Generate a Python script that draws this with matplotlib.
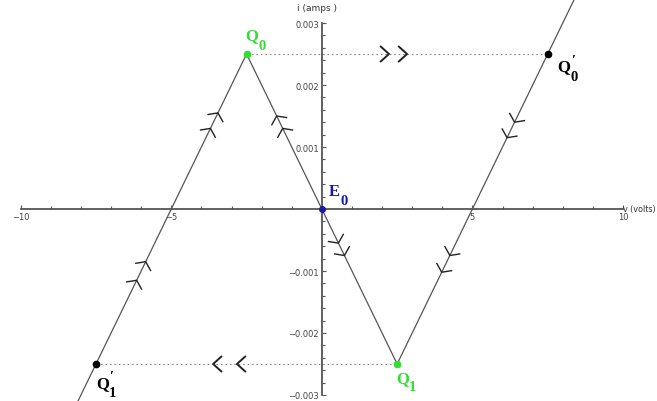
import numpy as np
import matplotlib as mpl
import matplotlib.pyplot as plt

mpl.rcParams['font.family'] = 'DejaVu Sans'

# branch end points (volts, amps)
left_v = [-8.5, -2.5]
left_i = [-0.0035, 0.0025]
mid_v = [-2.5, 2.5]
mid_i = [0.0025, -0.0025]
right_v = [2.5, 8.5]
right_i = [-0.0025, 0.0035]

# operating points
q0 = (-2.5, 0.0025)
q1 = (2.5, -0.0025)
q0p = (7.5, 0.0025)
q1p = (-7.5, -0.0025)
e0 = (0.0, 0.0)

# chevron tip positions (volts along each branch / jump)
left_arrows = [-3.45, -3.7, -5.85, -6.15]
mid_up_arrows = [-1.5, -1.3]
mid_down_arrows = [0.55, 0.75]
right_arrows = [6.4, 6.15, 4.25, 3.98]
jump_top = [2.23, 2.83]
jump_bottom = [-3.61, -2.82]

xticks = [-10, -5, 5, 10]
xticklabels = ['\u221210', '\u22125', '5', '10']
yticks = [-0.003, -0.002, -0.001, 0.001, 0.002, 0.003]
yticklabels = ['\u22120.003', '\u22120.002', '\u22120.001', '0.001', '0.002', '0.003']

line_col = '#555555'
axis_col = '#555555'
green = '#33dd33'
blue = '#1a1aa0'

fig = plt.figure(figsize=(6.57, 4.02), dpi=100)
ax = fig.add_axes([20.7 / 657, 6 / 402, 602.3 / 657, 372 / 402])
ax.set_xlim(-10, 10)
ax.set_ylim(-0.003, 0.003)

for s in ['top', 'right']:
    ax.spines[s].set_visible(False)
ax.spines['left'].set_position(('data', 0))
ax.spines['bottom'].set_position(('data', 0))
for s in ['left', 'bottom']:
    ax.spines[s].set_color(axis_col)
    ax.spines[s].set_linewidth(1.3)

ax.set_xticks(xticks)
ax.set_xticklabels(xticklabels)
ax.set_xticks(np.arange(-10, 11, 1), minor=True)
ax.set_yticks(yticks)
ax.set_yticklabels(yticklabels)
ax.set_yticks(np.arange(-0.003, 0.00301, 0.0002), minor=True)
ax.tick_params(which='both', direction='in', color=axis_col, width=0.8,
               labelsize=6, labelcolor='#444444', pad=2)
ax.tick_params(which='major', length=3)
ax.tick_params(which='minor', length=2)

fig.text(656 / 657, 1 - 210 / 402, 'v (volts)', fontsize=5.8, color='#333333',
         ha='right', va='center')
ax.text(-0.15, 0.00318, 'i (amps )', fontsize=6.5, color='#333333', ha='center', va='bottom')

# characteristic branches
for vv, ii in [(left_v, left_i), (mid_v, mid_i), (right_v, right_i)]:
    ax.plot(vv, ii, color=line_col, lw=0.9, clip_on=False, zorder=2)

# jumps
ax.plot([q0[0], q0p[0]], [q0[1], q0p[1]], color='#888888', lw=0.8,
        ls=(0, (1.5, 2.5)), zorder=1)
ax.plot([q1p[0], q1[0]], [q1p[1], q1[1]], color='#888888', lw=0.8,
        ls=(0, (1.5, 2.5)), zorder=1)


def chevron(v, i, v2, i2, half=55, arm=10, lw=1.0):
    # arrow tip at (v, i) pointing towards (v2, i2), built in pixel space
    tip = ax.transData.transform((v, i))
    ahead = ax.transData.transform((v2, i2))
    d = ahead - tip
    ang = np.degrees(np.arctan2(d[1], d[0])) + 180
    pts = []
    for a in (ang + half, ang - half):
        r = np.radians(a)
        pts.append(tip + arm * np.array([np.cos(r), np.sin(r)]))
    xy = ax.transData.inverted().transform(np.array([pts[0], tip, pts[1]]))
    ax.plot(xy[:, 0], xy[:, 1], color='#222222', lw=lw, zorder=3)


for v in left_arrows:
    chevron(v, 0.001 * (v + 5), v + 1, 0.001 * (v + 6))
for v in mid_up_arrows:
    chevron(v, -0.001 * v, v - 1, -0.001 * (v - 1))
for v in mid_down_arrows:
    chevron(v, -0.001 * v, v + 1, -0.001 * (v + 1))
for v in right_arrows:
    chevron(v, 0.001 * (v - 5), v - 1, 0.001 * (v - 6))
for v in jump_top:
    chevron(v, q0[1], v + 1, q0[1], half=42, arm=11, lw=1.4)
for v in jump_bottom:
    chevron(v, q1[1], v - 1, q1[1], half=42, arm=11, lw=1.4)

# points
ax.plot(*q0, 'o', color=green, ms=4.5, zorder=4)
ax.plot(*q1, 'o', color=green, ms=4.5, zorder=4)
ax.plot(*q0p, 'o', color='black', ms=4.5, zorder=4)
ax.plot(*q1p, 'o', color='black', ms=4.5, zorder=4)
ax.plot(*e0, 'o', color=blue, ms=4, zorder=4, clip_on=False)

serif = dict(family='Liberation Serif', weight='bold', textcoords='offset pixels',
             ha='left', va='top')


def point_label(xy, letter, sub, color, off, sub_off):
    # letter plus a lowered index (a primed index is stacked in one text)
    ax.annotate(letter, xy, xytext=off, color=color, fontsize=12, **serif)
    ax.annotate(sub, xy, xytext=sub_off, color=color, fontsize=10.5,
                linespacing=1.3, **serif)


point_label(q0, 'Q', '0', green, (-1, 27), (12, 15))
point_label(q1, 'Q', '1', green, (-1, -6), (12, -16))
point_label(q0p, 'Q', '\u2032\n0', 'black', (10, -4), (23, 0))
point_label(q1p, 'Q', '\u2032\n1', 'black', (0, -11), (13, -6))
point_label(e0, 'E', '0', blue, (7, 26), (19, 15))

fig.savefig('out.png', dpi=100)
